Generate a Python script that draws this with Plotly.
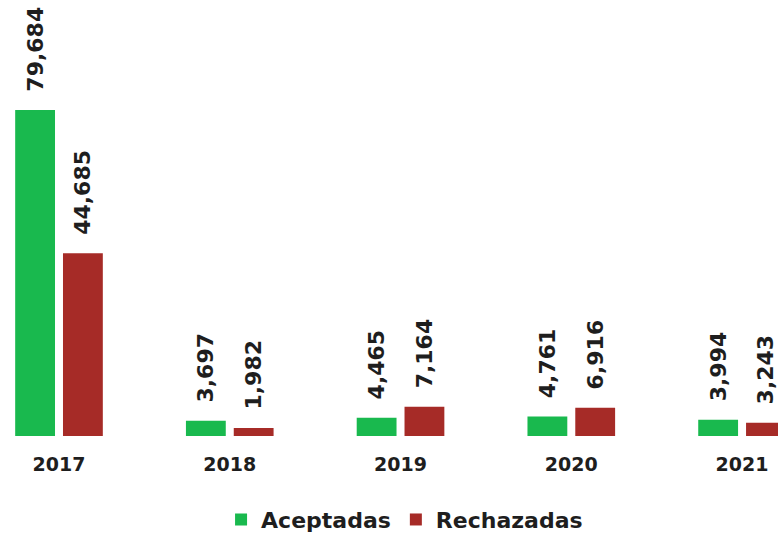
import plotly.graph_objects as go

years = ["2017", "2018", "2019", "2020", "2021"]
aceptadas = [79684, 3697, 4465, 4761, 3994]
rechazadas = [44685, 1982, 7164, 6916, 3243]
series_names = ["Aceptadas", "Rechazadas"]
colors = ["#19b94e", "#a62b27"]

font_b = dict(family="DejaVu Sans", weight=700, color="#1e1e1e")

fig = go.Figure()
for name, vals, col in zip(series_names, [aceptadas, rechazadas], colors):
    fig.add_trace(go.Bar(
        x=years, y=vals, name=name, marker=dict(color=col, line=dict(width=0)),
        text=["\u00a0\u00a0" + f"{v:,}" for v in vals], textposition="outside",
        textangle=-90, cliponaxis=False, constraintext="none",
        textfont=dict(size=22, **font_b), hoverinfo="skip"))

fig.update_layout(
    width=778, height=533,
    margin=dict(l=0, r=0, t=0, b=97, autoexpand=False),
    paper_bgcolor="white", plot_bgcolor="white",
    barmode="group", bargap=0.44, bargroupgap=0.167,
    xaxis=dict(type="category", range=[-0.3455, 4.2105], showgrid=False, showline=False,
               zeroline=False, ticks="", ticklabelstandoff=15, automargin=False,
               tickfont=dict(size=19, **font_b)),
    yaxis=dict(range=[0, 106570], visible=False, showgrid=False, zeroline=False,
               automargin=False),
    legend=dict(orientation="h", x=0.52, xanchor="center", yref="container",
                y=0.025, yanchor="middle",
                font=dict(size=22, **font_b),
                itemwidth=30, traceorder="normal", bgcolor="rgba(0,0,0,0)"),
    showlegend=True,
)

fig.write_html("out.html", config={"displayModeBar": False},
               post_script="document.body.style.margin='0';document.body.style.overflow='hidden';")
